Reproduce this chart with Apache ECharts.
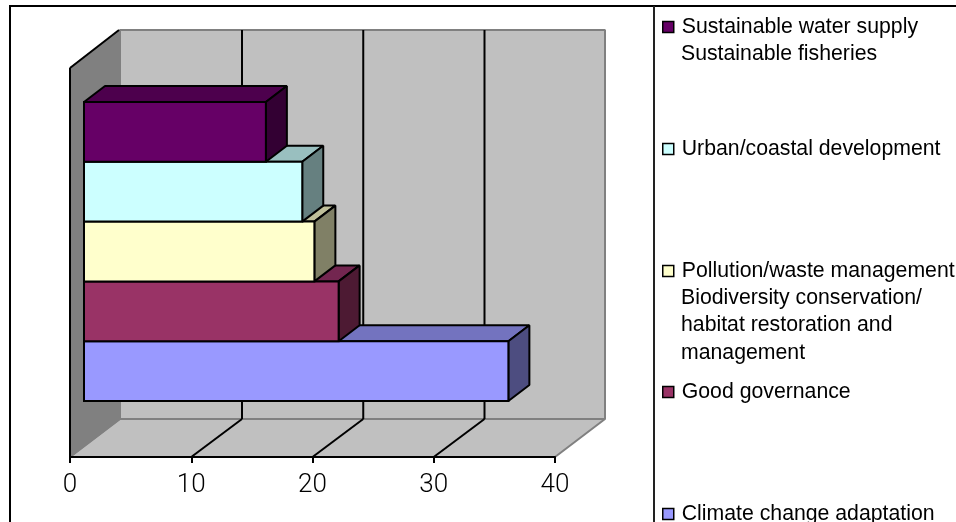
<!DOCTYPE html>
<html><head><meta charset="utf-8">
<style>html,body{margin:0;padding:0;background:#fff}#c{width:956px;height:522px}</style>
<script src="https://cdn.jsdelivr.net/npm/echarts@6/dist/echarts.min.js"></script>
</head><body><div id="c"></div>
<script>
// Categories, bottom bar first
const categories = ['Climate change adaptation','Good governance','Pollution/waste management','Urban/coastal development','Sustainable water supply'];
const values = [35, 21, 19, 18, 15];
const faceColors = ['#9999FF','#993366','#FFFFCC','#CCFFFF','#660066'];
const topColors  = ['#7373BF','#732650','#BFBF99','#99BFBF','#4D004D'];
const sideColors = ['#4D4D80','#4D1A33','#808066','#668080','#330033'];
const xTicks = [0, 10, 20, 30, 40];
// Legend rows: text-centre y for each series' entry, and continuation lines
const legendRowY = [512, 390, 269, 147, 25];
const extraLegendText = [
  ['Sustainable fisheries', 53],
  ['Biodiversity conservation/', 297],
  ['habitat restoration and', 324],
  ['management', 352]
];
const FONT = '"Liberation Sans", Arial, sans-serif';
const AXISFONT = 'Roboto, "Liberation Sans", Arial, sans-serif';

const AXIS_OFFSET = 45, WALL_DX = 50, WALL_DY = 38, WALL_TOP = 68;
const BAR_SHIFT_X = 14, BAR_SHIFT_Y = 11, BAR_DX = 21, BAR_DY = 16;

function poly(points, fill, stroke, lw, join) {
  return {type:'polygon', shape:{points}, style:{fill, stroke, lineWidth:lw, lineJoin:join||'bevel'}};
}
function seg(a, b, stroke, lw) {
  return {type:'line', shape:{x1:a[0],y1:a[1],x2:b[0],y2:b[1]}, style:{stroke, lineWidth:lw, fill:null}};
}
function renderWalls(params, api) {
  const tick = api.value(0);
  const p = api.coord([tick, categories[0]]);
  const x = p[0];
  const x0 = api.coord([xTicks[0], categories[0]])[0];
  const xN = api.coord([xTicks[xTicks.length-1], categories[0]])[0];
  const band = api.size([0,1])[1];
  const yb = p[1] + band/2 + AXIS_OFFSET;
  const children = [];
  if (params.dataIndex === 0) {
    children.push(poly([[x0+WALL_DX,WALL_TOP-WALL_DY],[xN+WALL_DX,WALL_TOP-WALL_DY],[xN+WALL_DX,yb-WALL_DY],[x0+WALL_DX,yb-WALL_DY]],'#C0C0C0','#808080',2));
    children.push(poly([[x0,yb],[xN,yb],[xN+WALL_DX,yb-WALL_DY],[x0+WALL_DX,yb-WALL_DY]],'#C0C0C0','#808080',2));
    children.push(poly([[x0,WALL_TOP],[x0+WALL_DX,WALL_TOP-WALL_DY],[x0+WALL_DX,yb-WALL_DY],[x0,yb]],'#808080','#808080',1.5));
    children.push(seg([x0,yb],[x0,WALL_TOP],'#000',2));
    children.push(seg([x0,WALL_TOP],[x0+WALL_DX-1,WALL_TOP-WALL_DY],'#000',2));
  } else if (params.dataIndex < xTicks.length - 1) {
    children.push(seg([x,yb],[x+WALL_DX+0.75,yb-WALL_DY],'#000',2));
    children.push(seg([x+WALL_DX+0.75,yb-WALL_DY],[x+WALL_DX+0.75,WALL_TOP-WALL_DY],'#000',2));
  }
  return {type:'group', children};
}
function makeBarRenderer(i) {
  return function (params, api) {
    const end = api.coord([api.value(0), api.value(1)]);
    const start = api.coord([0, api.value(1)]);
    const h = api.size([0,1])[1];
    const l = start[0] + BAR_SHIFT_X, r = end[0] + BAR_SHIFT_X;
    const t = end[1] - h/2 - BAR_SHIFT_Y, b = end[1] + h/2 - BAR_SHIFT_Y;
    return {type:'group', children:[
      poly([[l,t],[r,t],[r+BAR_DX,t-BAR_DY],[l+BAR_DX,t-BAR_DY]], topColors[i], '#000', 2),
      poly([[r,t],[r+BAR_DX,t-BAR_DY],[r+BAR_DX,b-BAR_DY],[r,b]], sideColors[i], '#000', 2),
      poly([[l,t],[r,t],[r,b],[l,b]], faceColors[i], '#000', 2, 'miter')
    ]};
  };
}
const barSeries = categories.map((name,i)=>({
  type:'custom', name, coordinateSystem:'cartesian2d',
  itemStyle:{color:faceColors[i]},
  encode:{x:0,y:1}, clip:false, z:5+i, silent:true,
  data:[[values[i], name]], renderItem:makeBarRenderer(i)
}));
const wallSeries = {
  type:'custom', name:'walls', coordinateSystem:'cartesian2d', encode:{x:0}, clip:false, z:1, silent:true,
  data:xTicks.map(t=>[t, categories[0]]), renderItem:renderWalls
};
const legends = categories.map((name,i)=>({
  show:true, data:[name], left:662, top:legendRowY[i]-13, padding:0, orient:'vertical',
  itemWidth:11, itemHeight:11, selectedMode:false, icon:'rect',
  itemStyle:{borderColor:'#000',borderWidth:1.5},
  textStyle:{fontFamily:FONT,fontSize:21.25,color:'#000',padding:[0,0,6,3],lineHeight:24}
}));
const graphics = [
  {type:'polyline', shape:{points:[[10,522],[10,6],[956,6]]}, style:{stroke:'#000',lineWidth:2,fill:null}, silent:true},
  {type:'line', shape:{x1:654,y1:6,x2:654,y2:522}, style:{stroke:'#222',lineWidth:2}, silent:true}
].concat(extraLegendText.map(([t,y])=>({
  type:'text', left:681, top:y-11, silent:true,
  style:{text:t,fontFamily:FONT,fontSize:21.25,fill:'#000',lineHeight:24}
})));
const chart = echarts.init(document.getElementById('c'),null,{renderer:'canvas'});
chart.setOption({
  animation:false, backgroundColor:'#fff',
  legend:legends,
  graphic:graphics,
  grid:{left:70, width:485, top:113, height:299, containLabel:false},
  xAxis:{type:'value', min:0, max:40, interval:10, offset:AXIS_OFFSET, z:4,
    splitLine:{show:false},
    axisLine:{show:true,onZero:false,lineStyle:{color:'#000',width:2}},
    axisTick:{show:true,length:6,lineStyle:{color:'#000',width:2}},
    axisLabel:{color:'#000',fontFamily:AXISFONT,fontWeight:300,fontSize:26,margin:15,formatter:v=>String(v)}},
  yAxis:{type:'category', data:categories, show:false},
  series:[wallSeries].concat(barSeries)
});
</script></body></html>
